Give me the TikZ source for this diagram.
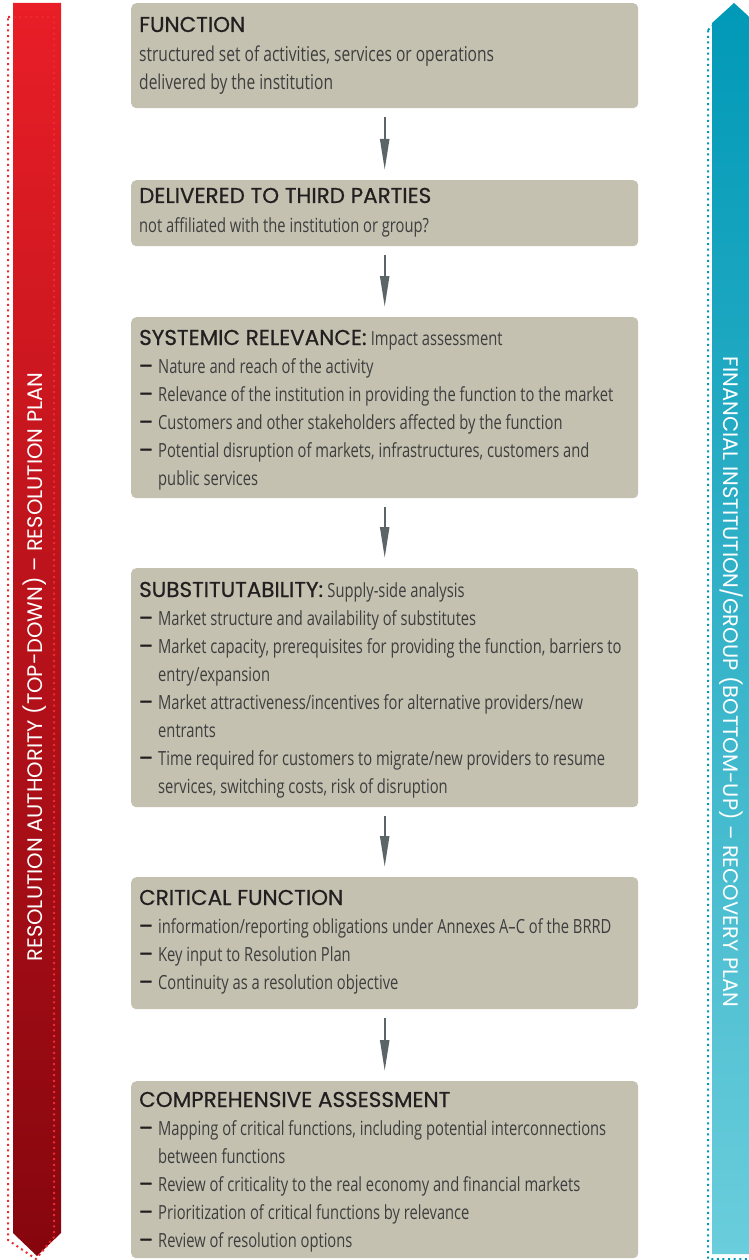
\documentclass[tikz,border=0pt]{standalone}
\usepackage{fontspec}
\setmainfont{Open Sans}
\newfontfamily\bodyfont[FakeStretch=0.755]{Open Sans}
\newfontfamily\bodyfontA[FakeStretch=0.76]{Open Sans}
\newfontfamily\headfont[FakeBold=0.7]{Poppins}
\newfontfamily\dashfont[FakeBold=2.5]{Poppins}
\newfontfamily\sidefont{Poppins}
\usetikzlibrary{arrows.meta}
\definecolor{boxfill}{HTML}{C4C1B1}
\definecolor{headcol}{HTML}{231F20}
\definecolor{bodycol}{HTML}{3E3E3E}
\definecolor{arrowcol}{HTML}{5B6467}
\definecolor{redtop}{HTML}{E91E27}
\definecolor{redbot}{HTML}{86060E}
\definecolor{reddot}{HTML}{EE2A30}
\definecolor{tealtop}{HTML}{0099B7}
\definecolor{tealbot}{HTML}{6ACDDB}
\tikzset{
  box/.style={fill=boxfill, rounded corners=5pt, inner sep=0pt, draw=none, anchor=north west, minimum width=507pt},
  head/.style={anchor=base west, inner sep=0pt, text=headcol, font=\headfont\fontsize{21.5}{24}\selectfont},
  body/.style={anchor=base west, inner sep=0pt, text=bodycol, font=\bodyfont\fontsize{19.5}{22}\selectfont},
  bodyA/.style={anchor=base west, inner sep=0pt, text=bodycol, font=\bodyfontA\fontsize{20.5}{22}\selectfont},
  dashmark/.style={anchor=base west, inner sep=0pt, text=headcol, font=\dashfont\fontsize{20}{22}\selectfont},
  flow/.style={draw=arrowcol, line width=2.2pt, -{Triangle[length=31pt,width=9pt]}, shorten <=9pt, shorten >=10pt},
  sidetext/.style={text=white, inner sep=0pt, font=\sidefont\fontsize{21}{24}\selectfont},
  dotline/.style={line width=2pt, dash pattern=on 2pt off 3.6pt}
}
\newcommand\bl[3]{\node[dashmark] (#1d) at (139,#2) {–}; \node[body] (#1) at (158,#2) {#3};}
\newcommand\cl[3]{\node[body] (#1) at (158,#2) {#3};}
\newcommand\sub[1]{{\bodyfont\fontsize{19.5}{22}\selectfont\color{bodycol}#1}}
\begin{document}
\begin{tikzpicture}[x=1pt,y=-1pt]
\useasboundingbox (0,0) rectangle (748,1260);
% left bar
\shade[top color=redtop, bottom color=redbot] (13,3) -- (61,3) -- (61,1233) -- (37,1256) -- (13,1233) -- cycle;
\draw[dotline, draw=reddot] (8,17) -- (54,17) -- (54,1237) -- (36,1259) -- (8,1240) -- cycle;
\node[sidetext, rotate=90] (lefttext) at (35,667) {RESOLUTION AUTHORITY (TOP-DOWN) – RESOLUTION PLAN};
% right bar
\shade[top color=tealtop, bottom color=tealbot] (712,23) -- (734,3) -- (756,23) -- (756,1254) -- (712,1254) -- cycle;
\draw[dotline, draw=tealtop] (708,30) -- (730,10) -- (752,30) -- (752,1259) -- (708,1259) -- cycle;
\node[sidetext, rotate=-90] (righttext) at (731,682) {FINANCIAL INSTITUTION/GROUP (BOTTOM-UP) – RECOVERY PLAN};
% boxes
\node[box, minimum height=105pt] (b1) at (131,3) {};
\node[box, minimum height=66pt] (b2) at (131,180) {};
\node[box, minimum height=181pt] (b3) at (131,317) {};
\node[box, minimum height=239pt] (b4) at (131,568) {};
\node[box, minimum height=132pt] (b5) at (131,877) {};
\node[box, minimum height=177pt] (b6) at (131,1081) {};
% arrows
\draw[flow] (b1.south) -- (b2.north);
\draw[flow] (b2.south) -- (b3.north);
\draw[flow] (b3.south) -- (b4.north);
\draw[flow] (b4.south) -- (b5.north);
\draw[flow] (b5.south) -- (b6.north);
% box 1
\node[head] (h1) at (139,32) {FUNCTION};
\node[bodyA] (t11) at (139,62) {structured set of activities, services or operations};
\node[bodyA] (t12) at (139,90) {delivered by the institution};
% box 2
\node[head] (h2) at (139,203) {DELIVERED TO THIRD PARTIES};
\node[body] (t21) at (139,233) {not affiliated with the institution or group?};
% box 3
\node[head] (h3) at (139,345) {SYSTEMIC RELEVANCE:\hspace{0.2em}\sub{Impact assessment}};
\bl{t31}{373}{Nature and reach of the activity}
\bl{t32}{401}{Relevance of the institution in providing the function to the market}
\bl{t33}{429}{Customers and other stakeholders affected by the function}
\bl{t34}{457}{Potential disruption of markets, infrastructures, customers and}
\cl{t35}{485}{public services}
% box 4
\node[head] (h4) at (139,597) {SUBSTITUTABILITY:\hspace{0.2em}\sub{Supply-side analysis}};
\bl{t41}{625}{Market structure and availability of substitutes}
\bl{t42}{653}{Market capacity, prerequisites for providing the function, barriers to}
\cl{t43}{681}{entry/expansion}
\bl{t44}{709}{Market attractiveness/incentives for alternative providers/new}
\cl{t45}{737}{entrants}
\bl{t46}{765}{Time required for customers to migrate/new providers to resume}
\cl{t47}{793}{services, switching costs, risk of disruption}
% box 5
\node[head] (h5) at (139,905) {CRITICAL FUNCTION};
\bl{t51}{933}{information/reporting obligations under Annexes A–C of the BRRD}
\bl{t52}{961}{Key input to Resolution Plan}
\bl{t53}{989}{Continuity as a resolution objective}
% box 6
\node[head] (h6) at (139,1107) {COMPREHENSIVE ASSESSMENT};
\bl{t61}{1135}{Mapping of critical functions, including potential interconnections}
\cl{t62}{1163}{between functions}
\bl{t63}{1191}{Review of criticality to the real economy and financial markets}
\bl{t64}{1219}{Prioritization of critical functions by relevance}
\bl{t65}{1247}{Review of resolution options}
\end{tikzpicture}
\end{document}
